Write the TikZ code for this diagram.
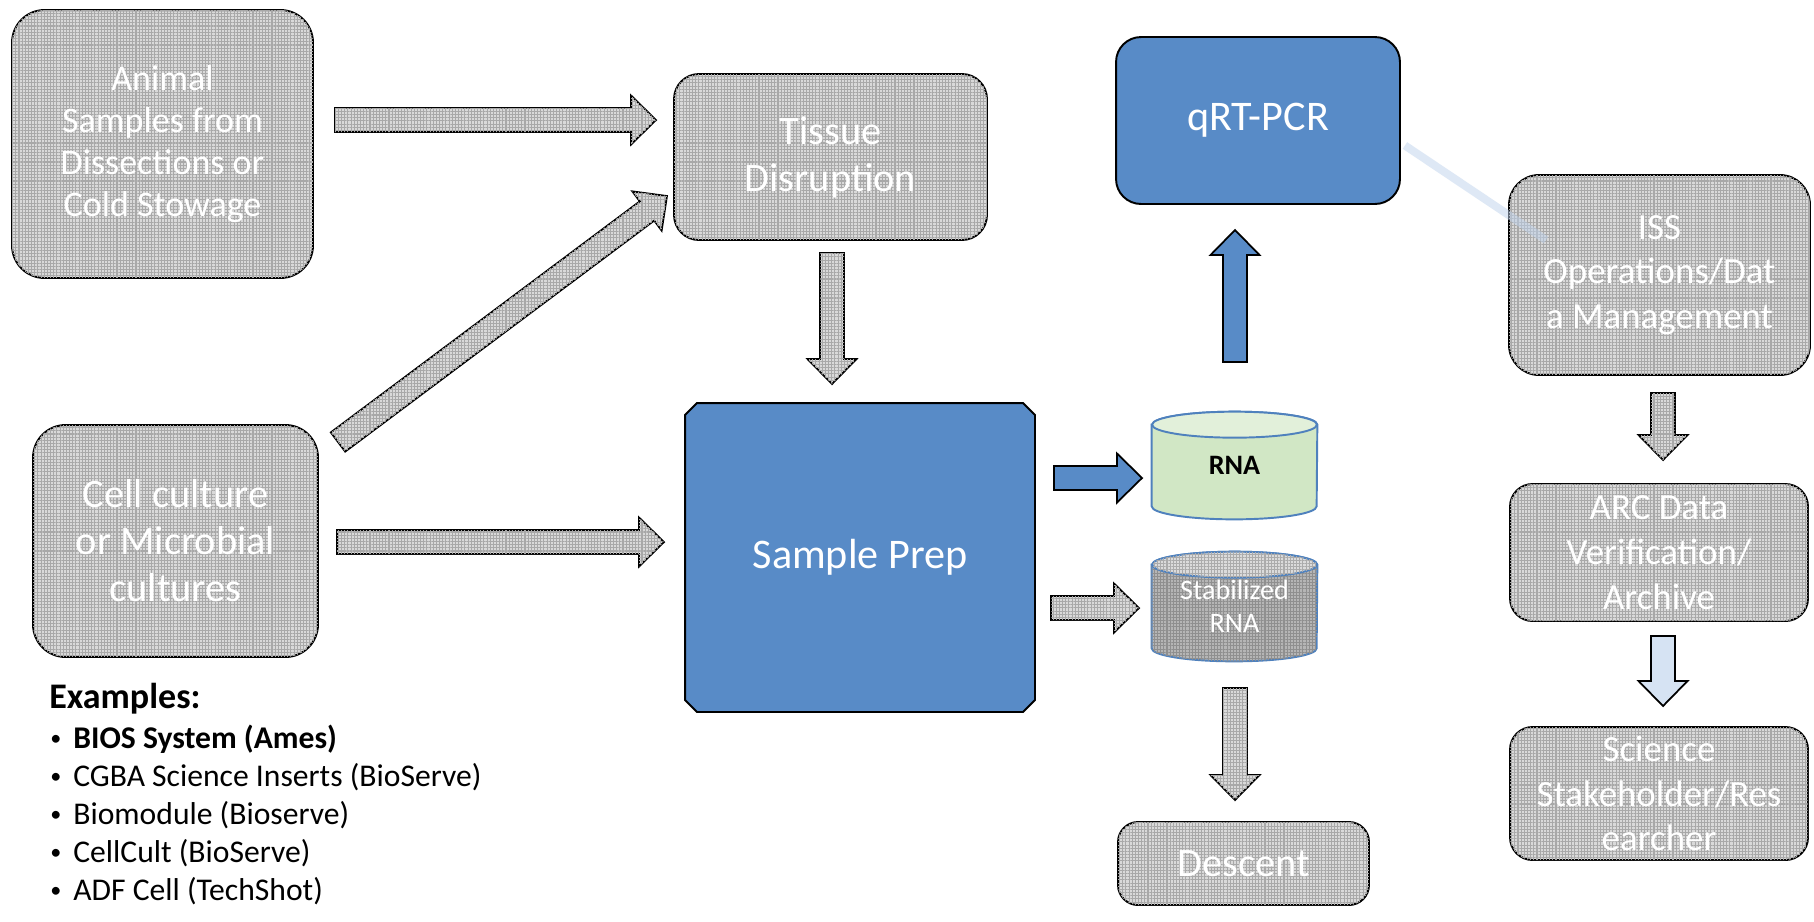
\documentclass[tikz,border=0pt]{standalone}
\usepackage{fontspec}
\usepackage{graphicx}
\setmainfont{Carlito}
\usetikzlibrary{calc,shapes.misc,patterns.meta,backgrounds}

\definecolor{boxblue}{RGB}{88,139,199}
\definecolor{rnagreen}{RGB}{209,231,197}
\definecolor{rnatop}{RGB}{226,240,218}
\definecolor{cylline}{RGB}{79,129,189}
\definecolor{paleblue}{RGB}{214,227,243}
\definecolor{fadeblue}{RGB}{190,210,236}

% block arrow between two named points
\newcommand{\blockarrow}[3][]{%
  \coordinate (hb) at ($(#3)!0.5cm!(#2)$);
  \draw[#1] ($(#2)!0.24cm!90:(#3)$) -- ($(hb)!0.24cm!90:(#3)$) -- ($(hb)!0.49cm!90:(#3)$) -- (#3)
    -- ($(hb)!0.49cm!-90:(#3)$) -- ($(hb)!0.24cm!-90:(#3)$) -- ($(#2)!0.24cm!-90:(#3)$) -- cycle;
}
\newcommand{\exbullet}{\makebox[0.46cm][l]{\mdseries\raisebox{0.08em}{\scalebox{0.7}{•}}}}

\begin{document}
\begin{tikzpicture}[x=0.02cm, y=-0.02cm,
  graybox/.style={draw=black, line width=1.1pt, rounded corners=0.55cm, fill=gray!30,
    postaction={pattern={Hatch[distance=1.8pt, line width=0.6pt]}, pattern color=gray!68},
    text=white, align=center, inner sep=0pt},
  bluebox/.style={draw=black, line width=1.1pt, fill=boxblue, text=white, align=center, inner sep=0pt},
  grayarrow/.style={draw=black, line width=1pt, fill=gray!30,
    postaction={pattern={Hatch[distance=1.8pt, line width=0.6pt]}, pattern color=gray!68}},
  bluearrow/.style={draw=black, line width=1pt, fill=boxblue},
  palearrow/.style={draw=black, line width=1pt, fill=paleblue},
  cylbox/.style={minimum width=3.3cm, inner sep=0pt, align=center},
  exitem/.style={anchor=base west, inner sep=0pt, font={\fontsize{18}{22}\selectfont}},
  fadeline/.style={line width=0.16cm, draw=fadeblue, draw opacity=0.5}
]

\path[use as bounding box] (0,0) rectangle (1814,921);
\begin{scope}[on background layer]
\fill [white] (0,0) rectangle (1814,921);
\end{scope}

% sources
\node [graybox, minimum width=6.02cm, minimum height=5.36cm, rounded corners=0.65cm,
  font={\fontsize{20.5}{24}\selectfont}] (animal) at (162.5,144)
  {Animal\\Samples from\\Dissections or\\Cold Stowage};

\node [graybox, minimum width=5.7cm, minimum height=4.64cm, rounded corners=0.65cm,
  font={\fontsize{23}{26.7}\selectfont}] (cell) at (175.5,541)
  {Cell culture\\or Microbial\\cultures};

\node [graybox, minimum width=6.26cm, minimum height=3.32cm, rounded corners=0.5cm,
  font={\fontsize{23}{26.7}\selectfont}] (tissue) at (830.5,157)
  {Tissue\\Disruption};

% processing
\node [bluebox, chamfered rectangle, chamfered rectangle xsep=0.12cm, chamfered rectangle ysep=0.12cm,
  minimum width=7cm, minimum height=6.18cm, font={\fontsize{24}{28}\selectfont}] (sample) at (860,557.5)
  {Sample Prep};

\node [bluebox, rounded corners=0.5cm, minimum width=5.68cm, minimum height=3.34cm,
  font={\fontsize{24}{28}\selectfont}] (qrt) at (1258,120.5) {qRT-PCR};

\node [cylbox, minimum height=2.14cm, font={\fontsize{16}{19}\selectfont\bfseries}] (rna) at (1234.5,465.5)
  {\raisebox{-0.12cm}{RNA}};

\node [cylbox, minimum height=2.18cm, text=white, font={\fontsize{16}{18.8}\selectfont}] (stab) at (1234.5,606.5)
  {Stabilized\\RNA};

\begin{scope}[on background layer]
\draw [draw=cylline, line width=1.1pt, fill=rnagreen]
  ($(rna.north west)+(0,13)$) -- ($(rna.south west)+(0,-13)$)
  arc [start angle=180, end angle=360, x radius=1.65cm, y radius=0.26cm]
  -- ($(rna.north east)+(0,13)$)
  arc [start angle=0, end angle=180, x radius=1.65cm, y radius=0.26cm] -- cycle;
\draw [draw=cylline, line width=1.1pt, fill=rnatop] ($(rna.north)+(0,13)$) ellipse [x radius=1.65cm, y radius=0.26cm];

\draw [draw=cylline, line width=1.1pt, fill=gray!58,
  postaction={pattern={Hatch[distance=1.8pt, line width=0.6pt]}, pattern color=gray!88}]
  ($(stab.north west)+(0,13)$) -- ($(stab.south west)+(0,-13)$)
  arc [start angle=180, end angle=360, x radius=1.65cm, y radius=0.26cm]
  -- ($(stab.north east)+(0,13)$)
  arc [start angle=0, end angle=180, x radius=1.65cm, y radius=0.26cm] -- cycle;
\draw [draw=cylline, line width=1.1pt, fill=gray!28,
  postaction={pattern={Hatch[distance=1.8pt, line width=0.6pt]}, pattern color=gray!66}]
  ($(stab.north)+(0,13)$) ellipse [x radius=1.65cm, y radius=0.26cm];
\end{scope}

\node [graybox, rounded corners=0.4cm, minimum width=5.02cm, minimum height=1.66cm,
  font={\fontsize{23}{26.7}\selectfont}] (descent) at (1243.5,863.5) {Descent};

% data chain
\node [graybox, rounded corners=0.6cm, minimum width=6.02cm, minimum height=4cm,
  font={\fontsize{21}{25.5}\selectfont}] (iss) at (1659.5,275)
  {ISS\\Operations/Dat\\a Management};

\node [graybox, rounded corners=0.45cm, minimum width=5.96cm, minimum height=2.74cm,
  font={\fontsize{21}{25.5}\selectfont}] (arc) at (1659,552.5)
  {ARC Data\\Verification/\\Archive};

\node [graybox, rounded corners=0.45cm, minimum width=5.96cm, minimum height=2.66cm,
  font={\fontsize{21}{25.5}\selectfont}] (sci) at (1659,793.5)
  {Science\\Stakeholder/Res\\earcher};

% arrow ends
\coordinate (animal-out) at (335,120);
\coordinate (tissue-in) at (656,120);
\coordinate (cell-up) at (338,442);
\coordinate (tissue-in2) at (667,196);
\coordinate (cell-out) at (337,542);
\coordinate (sample-in) at (664,542);
\coordinate (tissue-out) at (832,253);
\coordinate (sample-top) at (832,384);
\coordinate (sample-out) at (1054,478);
\coordinate (rna-in) at (1142,478);
\coordinate (sample-out2) at (1051,608);
\coordinate (stab-in) at (1139,608);
\coordinate (rna-up) at (1235,362);
\coordinate (qrt-in) at (1235,230);
\coordinate (stab-out) at (1235,688);
\coordinate (descent-in) at (1235,800);
\coordinate (iss-out) at (1663,393);
\coordinate (arc-in) at (1663,460);
\coordinate (arc-out) at (1663,636);
\coordinate (sci-in) at (1663,706);

\blockarrow[grayarrow]{animal-out}{tissue-in}
\blockarrow[grayarrow]{cell-up}{tissue-in2}
\blockarrow[grayarrow]{cell-out}{sample-in}
\blockarrow[grayarrow]{tissue-out}{sample-top}
\blockarrow[bluearrow]{sample-out}{rna-in}
\blockarrow[grayarrow]{sample-out2}{stab-in}
\blockarrow[bluearrow]{rna-up}{qrt-in}
\blockarrow[grayarrow]{stab-out}{descent-in}
\blockarrow[grayarrow]{iss-out}{arc-in}
\blockarrow[palearrow]{arc-out}{sci-in}

\draw [fadeline] ($(qrt.east)+(4,25)$) coordinate (qrt-link) -- ($(iss.north west)+(38,66)$) coordinate (iss-link);

% examples list
\node [anchor=base west, inner sep=0pt, font={\fontsize{20.5}{24}\selectfont\bfseries}] (examples) at (49,708) {Examples:};
\node [exitem, font={\fontsize{18}{22}\selectfont\bfseries}] (ex-bios) at (50,748) {\exbullet BIOS System (Ames)};
\node [exitem] (ex-cgba) at (50,786) {\exbullet CGBA Science Inserts (BioServe)};
\node [exitem] (ex-biomodule) at (50,824) {\exbullet Biomodule (Bioserve)};
\node [exitem] (ex-cellcult) at (50,862) {\exbullet CellCult (BioServe)};
\node [exitem] (ex-adf) at (50,900) {\exbullet ADF Cell (TechShot)};

\end{tikzpicture}
\end{document}
